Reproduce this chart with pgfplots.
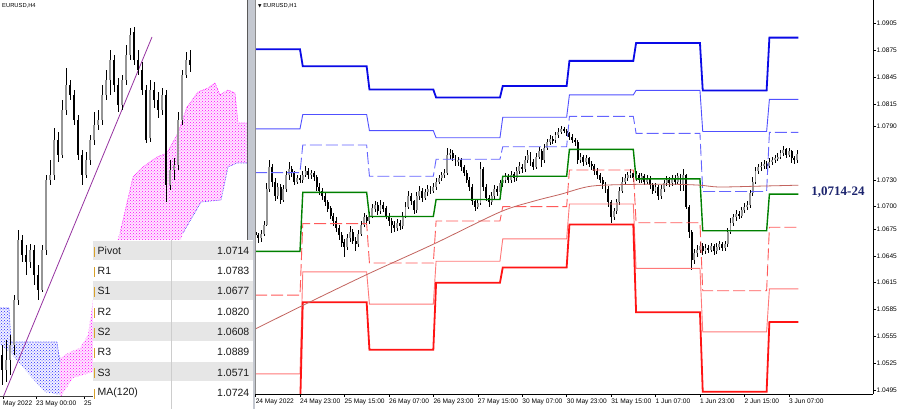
\documentclass[border=0pt]{standalone}
\usepackage{fontspec}
\setmainfont{Liberation Sans}
\newfontfamily\serifb{Liberation Serif}
\newfontfamily\dejavu{DejaVu Sans}
\usepackage{pgfplots}
\pgfplotsset{compat=1.18}
\usepackage{pgfplotstable}
\usetikzlibrary{patterns}

\definecolor{rthree}{RGB}{10,10,230}
\definecolor{rtwo}{RGB}{80,80,255}
\definecolor{rone}{RGB}{100,100,255}
\definecolor{piv}{RGB}{0,128,0}
\definecolor{sone}{RGB}{255,90,90}
\definecolor{stwo}{RGB}{255,120,120}
\definecolor{sthree}{RGB}{255,20,20}
\definecolor{maline}{RGB}{195,100,95}
\definecolor{bullc}{RGB}{150,150,150}
\definecolor{trend}{RGB}{150,50,160}
\definecolor{cloudm}{RGB}{255,0,255}
\definecolor{cloudb}{RGB}{40,40,255}
\definecolor{rowgrey}{RGB}{230,230,230}
\definecolor{colline}{RGB}{205,205,205}
\definecolor{goldm}{RGB}{215,160,40}
\definecolor{navyl}{RGB}{28,36,110}
\definecolor{band}{RGB}{196,200,208}

\newcommand{\tickfont}{\fontsize{6.6}{7.5}\selectfont}

% candle styles: wick = high-low range, body = open-close range
\pgfplotsset{
  wick/.style={draw=none, mark=none, error bars/.cd, y dir=both, y explicit,
    error mark=none, error bar style={solid, black, line width=#1}},
  body/.style 2 args={draw=none, mark=none, error bars/.cd, y dir=both, y explicit,
    error mark=none, error bar style={solid, #2, line width=#1}},
}

% H4 candles, left panel (bar, open, high, low, close; screen height units)
\pgfplotstableread{
k o h l c
0 45 55 15 30
1 30 60 18 40
2 40 65 25 55
3 55 105 45 100
4 100 170 95 160
5 160 165 138 145
6 145 155 125 138
7 138 156 132 150
8 150 155 115 125
9 125 135 100 110
10 110 155 108 150
11 150 225 145 220
12 220 240 215 225
13 225 272 220 260
14 260 268 238 245
15 245 300 242 290
16 290 332 285 315
17 315 320 300 305
18 305 310 275 280
19 280 285 240 245
20 245 250 215 225
21 225 248 222 240
22 240 265 235 260
23 260 288 255 275
24 275 290 270 280
25 280 315 275 305
26 305 330 300 320
27 320 350 305 340
28 340 345 308 315
29 315 322 288 295
30 295 325 290 320
31 320 355 315 345
32 345 372 340 365
33 368 373 335 340
34 340 350 325 330
35 330 338 305 310
36 310 315 257 260
37 262 320 258 310
38 310 318 292 300
39 300 308 282 290
40 290 312 285 305
41 305 310 198 215
42 215 240 210 230
43 230 242 220 235
44 235 288 230 280
45 280 330 275 325
46 325 348 322 340
47 340 350 328 335
}\lc

% H1 candles, right panel (bar, open, high, low, close)
\pgfplotstableread{
n o h l c
-16 1.0672 1.0676 1.0664 1.0668
-15 1.0668 1.0671 1.0660 1.0665
-14 1.0665 1.0674 1.0660 1.0670
-13 1.0670 1.0684 1.0667 1.0680
-12 1.0680 1.0726 1.0678 1.0720
-11 1.0720 1.0752 1.0716 1.0745
-10 1.0745 1.0748 1.0722 1.0728
-9 1.0728 1.0732 1.0706 1.0712
-8 1.0712 1.0727 1.0708 1.0722
-7 1.0722 1.0725 1.0703 1.0708
-6 1.0708 1.0724 1.0705 1.0720
-5 1.0720 1.0740 1.0716 1.0735
-4 1.0735 1.0750 1.0730 1.0742
-3 1.0742 1.0746 1.0733 1.0738
-2 1.0738 1.0740 1.0724 1.0728
-1 1.0728 1.0736 1.0725 1.0732
0 1.0732 1.0735 1.0726 1.0730
1 1.0730 1.0740 1.0727 1.0736
2 1.0736 1.0745 1.0733 1.0740
3 1.0740 1.0743 1.0731 1.0735
4 1.0735 1.0741 1.0731 1.0738
5 1.0738 1.0740 1.0729 1.0733
6 1.0733 1.0735 1.0718 1.0722
7 1.0722 1.0726 1.0713 1.0718
8 1.0718 1.0721 1.0708 1.0712
9 1.0712 1.0715 1.0701 1.0705
10 1.0705 1.0708 1.0694 1.0698
11 1.0698 1.0701 1.0686 1.0690
12 1.0690 1.0693 1.0679 1.0684
13 1.0684 1.0688 1.0672 1.0676
14 1.0676 1.0679 1.0663 1.0668
15 1.0668 1.0672 1.0655 1.0660
16 1.0660 1.0664 1.0644 1.0655
17 1.0655 1.0669 1.0652 1.0665
18 1.0665 1.0678 1.0661 1.0672
19 1.0672 1.0675 1.0658 1.0662
20 1.0662 1.0666 1.0651 1.0658
21 1.0658 1.0674 1.0655 1.0670
22 1.0670 1.0684 1.0667 1.0680
23 1.0680 1.0693 1.0677 1.0688
24 1.0688 1.0691 1.0680 1.0684
25 1.0684 1.0694 1.0681 1.0690
26 1.0690 1.0703 1.0687 1.0698
27 1.0698 1.0706 1.0694 1.0702
28 1.0702 1.0705 1.0691 1.0695
29 1.0695 1.0707 1.0692 1.0702
30 1.0702 1.0705 1.0694 1.0698
31 1.0698 1.0701 1.0686 1.0690
32 1.0690 1.0693 1.0679 1.0684
33 1.0684 1.0687 1.0671 1.0680
34 1.0680 1.0684 1.0672 1.0676
35 1.0676 1.0686 1.0673 1.0682
36 1.0682 1.0685 1.0674 1.0678
37 1.0678 1.0694 1.0675 1.0690
38 1.0690 1.0705 1.0687 1.0700
39 1.0700 1.0718 1.0697 1.0712
40 1.0712 1.0715 1.0702 1.0706
41 1.0706 1.0708 1.0692 1.0696
42 1.0696 1.0716 1.0693 1.0712
43 1.0712 1.0723 1.0708 1.0718
44 1.0718 1.0721 1.0705 1.0710
45 1.0710 1.0720 1.0707 1.0716
46 1.0716 1.0724 1.0712 1.0720
47 1.0720 1.0723 1.0714 1.0718
48 1.0718 1.0726 1.0715 1.0722
49 1.0722 1.0732 1.0719 1.0728
50 1.0728 1.0736 1.0725 1.0732
51 1.0732 1.0739 1.0729 1.0735
52 1.0735 1.0742 1.0732 1.0738
53 1.0738 1.0766 1.0735 1.0758
54 1.0758 1.0765 1.0753 1.0760
55 1.0760 1.0763 1.0751 1.0755
56 1.0755 1.0758 1.0745 1.0750
57 1.0750 1.0756 1.0746 1.0752
58 1.0752 1.0755 1.0740 1.0744
59 1.0744 1.0747 1.0734 1.0738
60 1.0738 1.0741 1.0726 1.0730
61 1.0730 1.0733 1.0718 1.0722
62 1.0722 1.0725 1.0702 1.0706
63 1.0706 1.0709 1.0695 1.0700
64 1.0700 1.0708 1.0697 1.0704
65 1.0704 1.0750 1.0702 1.0742
66 1.0742 1.0745 1.0718 1.0722
67 1.0722 1.0725 1.0706 1.0710
68 1.0710 1.0713 1.0700 1.0705
69 1.0705 1.0716 1.0702 1.0712
70 1.0712 1.0724 1.0709 1.0720
71 1.0720 1.0723 1.0712 1.0716
72 1.0716 1.0730 1.0713 1.0726
73 1.0726 1.0734 1.0722 1.0730
74 1.0730 1.0738 1.0727 1.0734
75 1.0734 1.0737 1.0726 1.0730
76 1.0730 1.0740 1.0727 1.0736
77 1.0736 1.0739 1.0728 1.0732
78 1.0732 1.0744 1.0729 1.0740
79 1.0740 1.0750 1.0737 1.0745
80 1.0745 1.0748 1.0738 1.0742
81 1.0742 1.0757 1.0739 1.0752
82 1.0752 1.0764 1.0749 1.0758
83 1.0758 1.0761 1.0746 1.0750
84 1.0750 1.0753 1.0741 1.0745
85 1.0745 1.0760 1.0742 1.0756
86 1.0756 1.0767 1.0753 1.0762
87 1.0762 1.0765 1.0745 1.0752
88 1.0752 1.0770 1.0749 1.0766
89 1.0766 1.0776 1.0763 1.0772
90 1.0772 1.0780 1.0769 1.0776
91 1.0776 1.0779 1.0770 1.0774
92 1.0774 1.0784 1.0771 1.0780
93 1.0780 1.0788 1.0777 1.0784
94 1.0784 1.0790 1.0781 1.0787
95 1.0787 1.0789 1.0782 1.0785
96 1.0785 1.0787 1.0779 1.0782
97 1.0782 1.0784 1.0775 1.0778
98 1.0778 1.0781 1.0771 1.0775
99 1.0775 1.0777 1.0768 1.0772
100 1.0772 1.0774 1.0748 1.0752
101 1.0752 1.0760 1.0749 1.0756
102 1.0756 1.0758 1.0746 1.0750
103 1.0750 1.0758 1.0747 1.0754
104 1.0754 1.0756 1.0744 1.0748
105 1.0748 1.0751 1.0741 1.0745
106 1.0745 1.0748 1.0736 1.0740
107 1.0740 1.0743 1.0731 1.0735
108 1.0735 1.0738 1.0726 1.0730
109 1.0730 1.0733 1.0720 1.0725
110 1.0725 1.0728 1.0715 1.0720
111 1.0720 1.0723 1.0700 1.0705
112 1.0705 1.0708 1.0682 1.0688
113 1.0688 1.0699 1.0685 1.0695
114 1.0695 1.0709 1.0692 1.0705
115 1.0705 1.0722 1.0702 1.0718
116 1.0718 1.0733 1.0715 1.0728
117 1.0728 1.0737 1.0725 1.0732
118 1.0732 1.0739 1.0729 1.0735
119 1.0735 1.0742 1.0732 1.0738
120 1.0738 1.0740 1.0728 1.0732
121 1.0732 1.0740 1.0729 1.0736
122 1.0736 1.0738 1.0726 1.0730
123 1.0730 1.0738 1.0727 1.0734
124 1.0734 1.0736 1.0724 1.0728
125 1.0728 1.0736 1.0725 1.0732
126 1.0732 1.0734 1.0720 1.0724
127 1.0724 1.0727 1.0714 1.0718
128 1.0718 1.0726 1.0715 1.0722
129 1.0722 1.0724 1.0707 1.0712
130 1.0712 1.0724 1.0709 1.0720
131 1.0720 1.0730 1.0717 1.0726
132 1.0726 1.0734 1.0723 1.0730
133 1.0730 1.0733 1.0722 1.0726
134 1.0726 1.0736 1.0723 1.0732
135 1.0732 1.0735 1.0724 1.0728
136 1.0728 1.0738 1.0725 1.0734
137 1.0734 1.0736 1.0718 1.0724
138 1.0724 1.0742 1.0718 1.0735
139 1.0735 1.0737 1.0697 1.0700
140 1.0700 1.0702 1.0665 1.0672
141 1.0672 1.0674 1.0629 1.0640
142 1.0640 1.0653 1.0636 1.0648
143 1.0648 1.0657 1.0644 1.0652
144 1.0652 1.0660 1.0648 1.0656
145 1.0656 1.0659 1.0646 1.0650
146 1.0650 1.0658 1.0647 1.0654
147 1.0654 1.0657 1.0648 1.0652
148 1.0652 1.0660 1.0649 1.0656
149 1.0656 1.0658 1.0646 1.0650
150 1.0650 1.0659 1.0647 1.0655
151 1.0655 1.0662 1.0652 1.0658
152 1.0658 1.0661 1.0650 1.0654
153 1.0654 1.0662 1.0651 1.0658
154 1.0658 1.0676 1.0655 1.0672
155 1.0672 1.0687 1.0669 1.0682
156 1.0682 1.0692 1.0678 1.0688
157 1.0688 1.0696 1.0684 1.0692
158 1.0692 1.0695 1.0686 1.0690
159 1.0690 1.0700 1.0687 1.0696
160 1.0696 1.0704 1.0693 1.0700
161 1.0700 1.0706 1.0696 1.0702
162 1.0702 1.0719 1.0699 1.0715
163 1.0715 1.0733 1.0712 1.0728
164 1.0728 1.0745 1.0725 1.0740
165 1.0740 1.0748 1.0737 1.0744
166 1.0744 1.0750 1.0740 1.0746
167 1.0746 1.0752 1.0742 1.0748
168 1.0748 1.0751 1.0742 1.0746
169 1.0746 1.0754 1.0743 1.0750
170 1.0750 1.0756 1.0747 1.0752
171 1.0752 1.0758 1.0749 1.0754
172 1.0754 1.0760 1.0751 1.0756
173 1.0756 1.0764 1.0753 1.0760
174 1.0760 1.0768 1.0757 1.0764
175 1.0764 1.0766 1.0754 1.0758
176 1.0758 1.0766 1.0755 1.0762
177 1.0762 1.0764 1.0749 1.0754
178 1.0754 1.0757 1.0748 1.0752
179 1.0752 1.0763 1.0749 1.0759
}\rc

% daily pivot levels (step lines)
\pgfplotstableread{
n r3 r2 r1 p s1 s2 s3
-16.2 1.0876 1.0787 1.0738 1.0650 1.0601 1.0513 1.0470
0 1.0876 1.0787 1.0738 1.0650 1.0601 1.0513 1.0470
1 1.0857 1.0803 1.0769 1.0716 1.0681 1.0627 1.0593
24 1.0857 1.0803 1.0769 1.0716 1.0681 1.0627 1.0593
25 1.0831 1.0785 1.0734 1.0689 1.0637 1.0591 1.0540
48 1.0831 1.0785 1.0734 1.0689 1.0637 1.0591 1.0540
49 1.0822 1.0777 1.0753 1.0708 1.0684 1.0639 1.0615
72 1.0822 1.0777 1.0753 1.0708 1.0684 1.0639 1.0615
73 1.0835 1.0800 1.0767 1.0734 1.0700 1.0664 1.0632
96 1.0835 1.0800 1.0767 1.0734 1.0700 1.0664 1.0632
97 1.0863 1.0825 1.0801 1.0764 1.0741 1.0703 1.0680
120 1.0863 1.0825 1.0801 1.0764 1.0741 1.0703 1.0680
121 1.0883 1.0830 1.0782 1.0731 1.0682 1.0631 1.0582
144 1.0883 1.0830 1.0782 1.0731 1.0682 1.0631 1.0582
145 1.0830 1.0784 1.0717 1.0673 1.0606 1.0560 1.0493
168 1.0830 1.0784 1.0717 1.0673 1.0606 1.0560 1.0493
169 1.0889 1.0820 1.0783 1.0714 1.0677 1.0608 1.0571
179.4 1.0889 1.0820 1.0783 1.0714 1.0677 1.0608 1.0571
}\piv

% MA(120)
\pgfplotstableread{
n ma
-16.2 1.0563
0 1.0588
24 1.0624
48 1.0658
72 1.0694
84 1.0706
94 1.0714
105 1.0723
122 1.0725
135 1.0725
144 1.0724
151 1.0722
166 1.0723
179.4 1.0724
}\mavg

\begin{document}
\begin{tikzpicture}[x=1pt,y=1pt]
\useasboundingbox (0,0) rectangle (900,409);
\fill[white] (0,0) rectangle (900,409);
\fill[band] (247.5,0) rectangle (255,409);

% ---------------- left panel: EURUSD H4 ----------------
\begin{axis}[
  at={(0pt,13pt)}, anchor=south west, scale only axis,
  width=247pt, height=396pt,
  xmin=-0.5, xmax=61.25, ymin=4, ymax=400,
  axis x line*=bottom, axis y line*=right,
  axis line style={-, black!75, line width=0.6pt},
  ytick=\empty,
  xtick={0.25,8.5,20.5},
  xticklabels={May 2022, 23 May 00:00, 25 May 00:00},
  xticklabel style={anchor=north west, xshift=-1.5pt, inner sep=1.5pt, font=\tickfont},
  tick align=outside, major tick length=3pt,
  tick style={black, line width=0.5pt},
]
% ichimoku cloud
\addplot[draw=none, fill=cloudb!6] coordinates {
(-0.5,92) (1.75,92) (2.25,58) (13.75,58) (14.5,38) (14.5,5) (10.75,8) (5.75,30) (2,48) (-0.5,55)} -- cycle;
\addplot[draw=none, pattern=crosshatch dots, pattern color=cloudb] coordinates {
(-0.5,92) (1.75,92) (2.25,58) (13.75,58) (14.5,38) (14.5,5) (10.75,8) (5.75,30) (2,48) (-0.5,55)} -- cycle;
\addplot[draw=none, fill=cloudm!9] coordinates {
(14.5,42) (17,48) (19.5,52) (21.5,65) (22.75,100) (24.5,120) (27,142) (29.5,167)
(32.75,223) (35.25,233) (38.75,243) (41.25,247) (44,267) (46.25,293) (49,308)
(51.5,312) (53.25,317) (54.5,305) (56.5,310) (58.25,307) (59,277) (61.5,277)
(61.5,237) (58.75,237) (56.5,233) (54.75,200) (49.75,198) (45.25,167) (41.5,120)
(36.5,80) (29.5,40) (22.75,28) (17.75,22) (14.5,2)} -- cycle;
\addplot[draw=none, pattern=crosshatch dots, pattern color=cloudm] coordinates {
(14.5,42) (17,48) (19.5,52) (21.5,65) (22.75,100) (24.5,120) (27,142) (29.5,167)
(32.75,223) (35.25,233) (38.75,243) (41.25,247) (44,267) (46.25,293) (49,308)
(51.5,312) (53.25,317) (54.5,305) (56.5,310) (58.25,307) (59,277) (61.5,277)
(61.5,237) (58.75,237) (56.5,233) (54.75,200) (49.75,198) (45.25,167) (41.5,120)
(36.5,80) (29.5,40) (22.75,28) (17.75,22) (14.5,2)} -- cycle;
\addplot[cloudm, densely dotted, line width=0.6pt] coordinates {
(29.5,167) (32.75,223) (35.25,233) (38.75,243) (41.25,247) (44,267) (46.25,293) (49,308)
(51.5,312) (53.25,317) (54.5,305) (56.5,310) (58.25,307) (59,277) (61.5,277)};
\addplot[cloudb, densely dotted, line width=0.6pt] coordinates {
(45.25,167) (49.75,198) (54.75,200) (56.5,233) (58.75,237) (61.5,237)};
\addplot[cloudb, densely dotted, line width=0.6pt] coordinates {
(-0.5,92) (1.75,92) (2.25,58) (13.75,58) (14.5,38)};
% trend line
\addplot[trend, line width=0.8pt] coordinates {(0,0) (37.5,363)};
% candles: wicks, rising bodies, falling bodies
\addplot[wick=0.7pt]
  table[x=k, y expr={(\thisrow{h}+\thisrow{l})/2}, y error expr={(\thisrow{h}-\thisrow{l})/2}] {\lc};
\addplot[body={2.8pt}{bullc}]
  table[x=k, y expr={(\thisrow{o}+\thisrow{c})/2}, y error expr={max(\thisrow{c}-\thisrow{o},0)/2}] {\lc};
\addplot[body={2.8pt}{black}]
  table[x=k, y expr={(\thisrow{o}+\thisrow{c})/2}, y error expr={max(\thisrow{o}-\thisrow{c},0)/2}] {\lc};
\end{axis}
\draw[black!65, line width=0.8pt] (247.5,0) -- (247.5,409);

% ---------------- right panel: EURUSD H1 ----------------
\begin{axis}[
  at={(255pt,15pt)}, anchor=south west, scale only axis,
  width=618pt, height=394pt,
  xmin=-16.2, xmax=206.3, ymin=1.04905, ymax=1.09311,
  axis x line*=bottom, axis y line*=right,
  axis line style={-, black, line width=0.6pt},
  tick align=outside, major tick length=3pt,
  tick style={black, line width=0.5pt},
  xtick={-16,0,16,32,48,64,80,96,112,128,144,160,176},
  xticklabels={24 May 2022, 24 May 23:00, 25 May 15:00, 26 May 07:00, 26 May 23:00,
    27 May 15:00, 30 May 07:00, 30 May 23:00, 31 May 15:00, 1 Jun 07:00,
    1 Jun 23:00, 2 Jun 15:00, 3 Jun 07:00},
  xticklabel style={anchor=north west, xshift=-1.5pt, inner sep=1.5pt, font=\tickfont},
  ytick={1.0495,1.0525,1.0555,1.0585,1.0615,1.0645,1.0675,1.0700,1.0730,1.0790,1.0815,1.0845,1.0875,1.0905},
  yticklabels={1.0495,1.0525,1.0555,1.0585,1.0615,1.0645,1.0675,1.0700,1.0730,1.0790,1.0815,1.0845,1.0875,1.0905},
  yticklabel style={anchor=west, xshift=-1pt, inner sep=1.5pt, font=\tickfont},
]
% candles: wicks, rising bodies, falling bodies
\addplot[wick=0.6pt]
  table[x=n, y expr={(\thisrow{h}+\thisrow{l})/2}, y error expr={(\thisrow{h}-\thisrow{l})/2}] {\rc};
\addplot[body={1.9pt}{bullc}]
  table[x=n, y expr={(\thisrow{o}+\thisrow{c})/2}, y error expr={max(\thisrow{c}-\thisrow{o},0)/2}] {\rc};
\addplot[body={1.9pt}{black}]
  table[x=n, y expr={(\thisrow{o}+\thisrow{c})/2}, y error expr={max(\thisrow{o}-\thisrow{c},0)/2}] {\rc};
% pivot levels
\addplot[rthree, line width=1.8pt, mark=none] table[x=n, y=r3] {\piv};
\addplot[rtwo, line width=0.9pt, mark=none] table[x=n, y=r2] {\piv};
\addplot[rone, line width=0.9pt, mark=none, dash pattern=on 12pt off 4pt] table[x=n, y=r1] {\piv};
\addplot[piv, line width=1.4pt, mark=none] table[x=n, y=p] {\piv};
\addplot[sone, line width=0.9pt, mark=none, dash pattern=on 12pt off 4pt] table[x=n, y=s1] {\piv};
\addplot[stwo, line width=0.9pt, mark=none] table[x=n, y=s2] {\piv};
\addplot[sthree, line width=1.8pt, mark=none] table[x=n, y=s3] {\piv};
% moving average
\addplot[maline, line width=0.8pt, mark=none, smooth] table[x=n, y=ma] {\mavg};
% current price tag
\node[fill=black, text=white, font=\tickfont, inner sep=1.2pt, anchor=west]
  at (axis cs:206.3,1.0759) {\,1.0759};
\end{axis}
\draw[black!45, line width=0.6pt] (255,15) -- (255,409);

% ---------------- pivot table ----------------
\fill[white] (93,0) rectangle (253,169);
\foreach \i/\lab/\val/\sh in {0/Pivot/1.0714/1,1/R1/1.0783/0,2/S1/1.0677/1,3/R2/1.0820/0,4/S2/1.0608/1,5/R3/1.0889/0,6/S3/1.0571/1,7/MA(120)/1.0724/0}{
  \pgfmathsetmacro{\rt}{169-20.3*\i}
  \pgfmathsetmacro{\rb}{\rt-20.3}
  \ifnum\sh=1 \fill[rowgrey] (93,{\rb+0.7}) rectangle (253,{\rt-0.7}); \fi
  \fill[goldm] (93.6,{\rt-16.7}) rectangle (95.2,{\rt-6.7});
  \node[anchor=west, inner sep=0pt, text=black!90, font=\fontsize{10.5}{12}\selectfont] at (97.5,{\rt-10.6}) {\lab};
  \node[anchor=east, inner sep=0pt, text=black!90, font=\fontsize{10.5}{12}\selectfont] at (249.5,{\rt-10.6}) {\val};
}
\draw[colline, line width=0.8pt] (171.7,0) -- (171.7,169);

% ---------------- captions ----------------
\node[anchor=west, inner sep=0pt, font=\fontsize{5.8}{7}\selectfont] at (2,403) {EURUSD,H4};
\node[anchor=west, inner sep=0pt, font=\fontsize{5.8}{7}\selectfont] at (258,403) {{\dejavu\fontsize{4.5}{6}\selectfont ▼}\ EURUSD,H1};
\node[text=navyl, inner sep=0pt, font=\serifb\bfseries\fontsize{13}{15}\selectfont] at (838,217.3) {1,0714-24};
\end{tikzpicture}
\end{document}
